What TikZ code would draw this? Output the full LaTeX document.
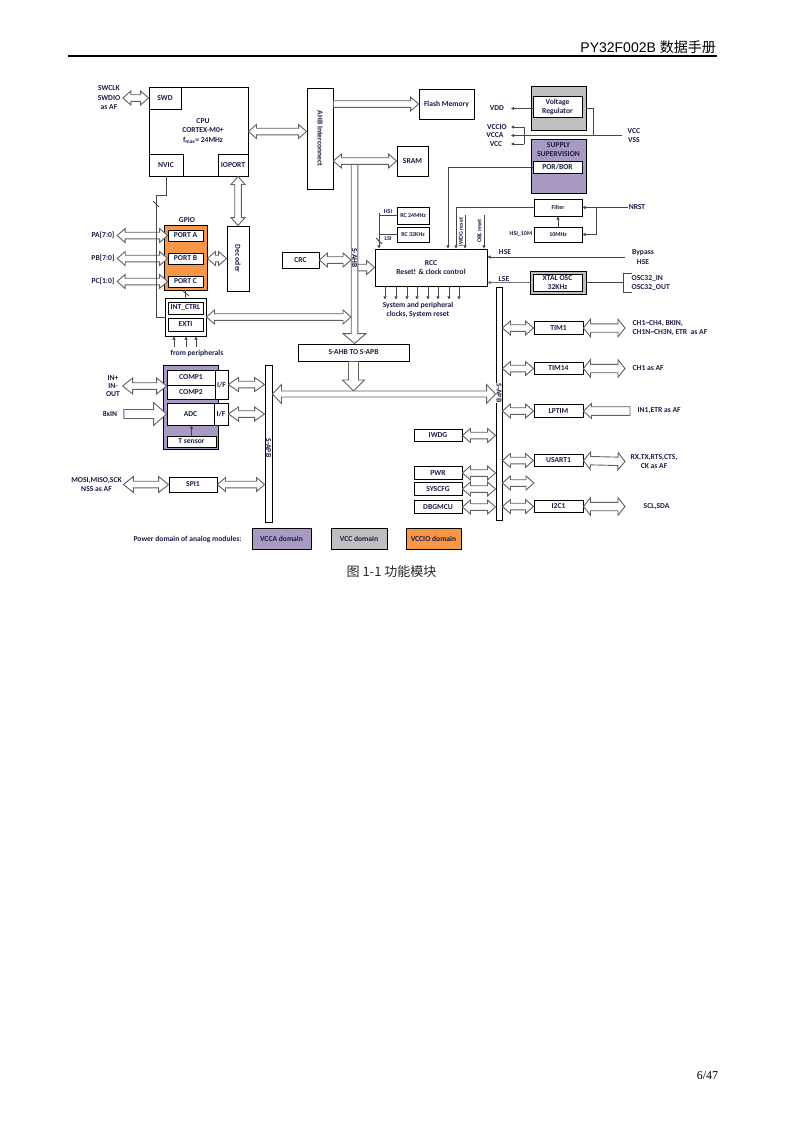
\documentclass[tikz,border=0pt]{standalone}
\usepackage{fontspec}
\setmainfont{Carlito}
\newfontfamily\hdrfont{Liberation Sans}
\newfontfamily\cjkfont{Noto Sans CJK SC}
\newfontfamily\pgfont{Liberation Serif}
\usepackage{xcolor}
\usepackage{tikz}
\usetikzlibrary{arrows.meta,calc}
\definecolor{vccapurple}{RGB}{168,154,194}
\definecolor{vccgray}{RGB}{191,191,191}
\definecolor{vccioorange}{RGB}{247,150,70}
\definecolor{ink}{RGB}{28,28,72}

\newcommand\dfont{\fontsize{7.6}{9.5}\selectfont\bfseries}
\newcommand\sfont{\fontsize{6}{7}\selectfont\bfseries}

% hollow block arrows between two points
\def\blkaw{7pt}\def\blkah{8pt}\def\blksw{3.3pt}
\tikzset{head w/.code={\def\blkaw{#1}}, head l/.code={\def\blkah{#1}}, shaft w/.code={\def\blksw{#1}}}
\newcommand\dblarr[3][]{%
  \filldraw[blkarrow,#1] (#2)
    -- ($(#2)!\blkah!(#3)!\blkaw!90:(#3)$)
    -- ($(#2)!\blkah!(#3)!\blksw!90:(#3)$)
    -- ($(#3)!\blkah!(#2)!\blksw!-90:(#2)$)
    -- ($(#3)!\blkah!(#2)!\blkaw!-90:(#2)$)
    -- (#3)
    -- ($(#3)!\blkah!(#2)!\blkaw!90:(#2)$)
    -- ($(#3)!\blkah!(#2)!\blksw!90:(#2)$)
    -- ($(#2)!\blkah!(#3)!\blksw!-90:(#3)$)
    -- ($(#2)!\blkah!(#3)!\blkaw!-90:(#3)$)
    -- cycle;}
\newcommand\sglarr[3][]{%
  \filldraw[blkarrow,#1] ($(#2)!\blksw!90:(#3)$)
    -- ($(#3)!\blkah!(#2)!\blksw!-90:(#2)$)
    -- ($(#3)!\blkah!(#2)!\blkaw!-90:(#2)$)
    -- (#3)
    -- ($(#3)!\blkah!(#2)!\blkaw!90:(#2)$)
    -- ($(#3)!\blkah!(#2)!\blksw!90:(#2)$)
    -- ($(#2)!\blksw!-90:(#3)$)
    -- cycle;}

\begin{document}
\begin{tikzpicture}[x=1pt, y=-1pt,
    every node/.style={text=ink, font=\dfont, inner sep=0.5pt},
    box/.style={draw=black, line width=0.9pt, fill=white, align=center, inner sep=0pt},
    lbl/.style={align=center},
    small/.style={font=\sfont},
    wire/.style={draw=black!72, line width=0.8pt},
    wirearr/.style={wire, -{Triangle[length=3.2pt,width=3.2pt]}},
    blkarrow/.style={draw=black!62, fill=white, line width=0.9pt, line join=miter},
    barlbl/.style={rotate=-90, fill=white, inner sep=0.3pt}
]
\useasboundingbox (0,0) rectangle (793,1122);

% page header
\node[anchor=base east, font=\fontsize{14}{16}\selectfont\hdrfont, text=black, inner sep=0pt] (title) at (716,52) {PY32F002B {\cjkfont 数据手册}};
\draw[line width=1.3pt] (68,56) -- (717,56);

% CPU
\node[box, minimum width=99, minimum height=89] (cpu) at (198.5,131.5) {};
\node[lbl] (cpulbl) at (203,131) {CPU\\CORTEX-M0+\\f\textsubscript{max}= 24MHz};
\node[box, minimum width=32, minimum height=22] (swd) at (165,98) {SWD};
\node[box, minimum width=34, minimum height=22] (nvic) at (166,165) {NVIC};
\node[box, minimum width=30, minimum height=22] (ioport) at (233,165) {IOPORT};
\node[lbl] (swdlbl) at (109,98) {SWCLK\\SWDIO\\as AF};
\dblarr{[xshift=2pt]swdlbl.east}{swd.west}

% AHB
\node[box, minimum width=26, minimum height=101] (ahb) at (320,138.5) {};
\node[rotate=-90] (ahblbl) at (ahb) {AHB Interconnect};
\node[box, minimum width=55, minimum height=30] (flash) at (446.5,104) {Flash Memory};
\node[box, minimum width=31, minimum height=30] (sram) at (412.5,161) {SRAM};
\node[box, minimum width=111, minimum height=17] (ahb2apb) at (353.5,352.5) {S-AHB TO S-APB};
\dblarr{cpu.east}{ahb.west|-cpu.east}
\sglarr{ahb.east|-flash}{flash.west}
\coordinate (sahb) at (354.5,163);
\coordinate (sahbl) at (351,163);
\coordinate (sahbr) at (358,163);
\sglarr[head w=11.5pt, head l=10pt]{sahb}{sahb|-ahb2apb.north}
\dblarr{ahb.east|-sram}{sram.west}
\node[barlbl] (sahblbl) at (354.5,258) {S-AHB};

% GPIO
\node[box, fill=vccioorange, minimum width=43, minimum height=65] (gpio) at (185.5,257.5) {};
\node (gpiolbl) at (187,220) {GPIO};
\node[box, minimum width=22, minimum height=65] (decoder) at (238,258.5) {};
\node[rotate=-90] (decoderlbl) at (decoder) {Dec oder};
\foreach \nm/\yy/\ptxt/\pin in {a/235.5/PORT A/PA[7:0], b/258.5/PORT B/PB[7:0], c/281.5/PORT C/PC[1:0]} {
    \node[box, minimum width=35, minimum height=11] (port\nm) at (185.5,\yy) {\ptxt};
    \node (pin\nm) at (103,\yy) {\pin};
    \dblarr{[xshift=2pt]pin\nm.east}{port\nm.west}
}
\dblarr{decoder.north|-ioport.south}{decoder.north}
\dblarr{gpio.east|-portb}{decoder.west|-portb}

% interrupts
\node[box, minimum width=41, minimum height=38] (intext) at (185.5,317) {};
\node[box, minimum width=35, minimum height=12] (intctrl) at (185.5,308) {INT\_CTRL};
\node[box, minimum width=35, minimum height=13] (exti) at (185.5,324.5) {EXTI};
\node (fromp) at (197,353) {from peripherals};
\foreach \x in {174,186,196}
    \draw[wirearr] (\x,347) -- (\x,0 |- intext.south);
\draw[wire] (nvic.south) |- (156,195) |- (intext.west);
\draw[wire] (153,201) -- (159,207);
\draw[wire] (gpio.south) -- (intext.north);
\draw[wire] (183,291) -- (189,296);
\dblarr{intext.east}{sahbl|-intext.east}

% CRC and RCC
\node[box, minimum width=37, minimum height=16] (crc) at (300.5,260) {CRC};
\node[box, minimum width=112, minimum height=37, font=\fontsize{7.6}{9}\selectfont\bfseries] (rcc) at (431,267.5) {RCC\\Reset! \& clock control};
\dblarr{crc.east}{sahbl|-crc.east}
\sglarr{sahbr|-rcc}{rcc.west}
\node[box, small, minimum width=32, minimum height=17] (rc24) at (413,215.5) {RC 24MHz};
\node[box, small, minimum width=32, minimum height=15] (rc32) at (413,234.5) {RC 32KHz};
\coordinate (hsibus) at (379,213);
\draw[wirearr] (hsibus) -- (hsibus|-rcc.north);
\draw[wire] (hsibus|-rc24) -- (rc24.west);
\draw[wire] (hsibus|-rc32) -- (rc32.west);
\draw[wire] (376,238) -- (382,244);
\node[small] (hsilbl) at (388,211.5) {HSI};
\node[small] (lsilbl) at (388,238.5) {LSI};
\foreach \x in {385,396,407,417,428,438,449,459}
    \draw[wirearr] (\x,0 |- rcc.south) -- ++(0,13);
\node[lbl, font=\fontsize{7.6}{9}\selectfont\bfseries] (clkout) at (418,309.5) {System and peripheral\\clocks, System reset};

% supply
\node[box, fill=vccgray, minimum width=55, minimum height=44] (vreg) at (558.5,108) {};
\node[box, minimum width=49, minimum height=21, font=\fontsize{7.6}{9}\selectfont\bfseries] (vregin) at (557.5,106.5) {Voltage\\Regulator};
\node[box, fill=vccapurple, minimum width=55, minimum height=54] (supsv) at (558.5,166) {};
\node[lbl, font=\fontsize{7.6}{9}\selectfont\bfseries] (supsvlbl) at (558.5,149.5) {SUPPLY\\SUPERVISION};
\node[box, minimum width=49, minimum height=12] (porbor) at (557.5,167) {POR/BOR};
\node (vddlbl) at (497,108.5) {VDD};
\node (vccio) at (497,127) {VCCIO};
\node (vcca) at (495,135.5) {VCCA};
\node (vcclbl) at (496,144) {VCC};
\node[lbl, anchor=west, font=\fontsize{7.6}{9}\selectfont\bfseries] (vccvss) at (627,135.5) {VCC\\VSS};
\coordinate (pinx) at (511,0);
\coordinate (brk) at (524,0);
\coordinate (regout) at (593,0);
\draw[wirearr] (vregin.west|-vddlbl) -- (pinx|-vddlbl);
\draw[wirearr] (brk|-vccio) -- (pinx|-vccio);
\draw[wirearr] (brk|-vcclbl) -- (pinx|-vcclbl);
\draw[wire] (brk|-vccio) -- (brk|-vcclbl);
\draw[wire] (vreg.east) -| (regout|-vccvss);
\draw[wirearr] ([xshift=-5pt]vccvss.west) -- (pinx|-vccvss);
\draw[wirearr] (porbor.west) -| (rcc.north -| 448,0);

% reset and clocks
\node[box, small, minimum width=48, minimum height=17] (filter) at (558,207.5) {Filter};
\node[box, small, minimum width=48, minimum height=15] (osc10) at (558,234.5) {10MHz};
\node[small] (hsi10) at (521,233.5) {HSI\_10M};
\node (nrst) at (637,207.5) {NRST};
\coordinate (nrstsplit) at (596,207.5);
\draw[wirearr] (osc10.north) -- (filter.south);
\draw[wirearr] (nrst.west) -- (filter.east);
\draw[wirearr] (nrstsplit) |- (osc10.east);
\draw[wirearr] (filter.west) -| (rcc.north -| 456,0);
\draw[wirearr] (465,215) -- (rcc.north -| 465,0);
\draw[wirearr] (484,215) -- (rcc.north -| 484,0);
\node[small, rotate=90] (iwdgrst) at (461,232) {IWDG reset};
\node[small, rotate=90] (oblrst) at (479.5,231) {OBL reset};
\node (hselbl) at (505,252) {HSE};
\node[lbl, font=\fontsize{7.6}{9.5}\selectfont\bfseries] (bypass) at (643,257) {Bypass\\HSE};
\draw[wirearr] ([xshift=-6.5pt]bypass.west) -- (rcc.east|-bypass.west);
\node[box, fill=vccgray, minimum width=56, minimum height=23] (xtal) at (558,282.5) {};
\node[box, minimum width=49, minimum height=17, font=\fontsize{7.6}{9}\selectfont\bfseries] (xtalin) at (557.5,282.5) {XTAL OSC\\32KHz};
\node (lselbl) at (504,279) {LSE};
\draw[wirearr, draw=black!55, line width=1.6pt] (xtal.west) -- (rcc.east|-xtal.west);
\node[lbl, anchor=west, align=left] (osc32) at (631,283) {OSC32\_IN\\OSC32\_OUT};
\draw[wire] (xtal.east) -- (623,282.5);
\draw[wire] (632,273) -| (623,292) -- (632,292);

% APB buses
\node[box, minimum width=7, minimum height=157] (lbus) at (268.5,443.5) {};
\node[box, minimum width=6, minimum height=233] (rbus) at (499,403.5) {};
\coordinate (apbmid) at (384,394);
\coordinate (apbjoin) at (354,391);
\sglarr[shaft w=5pt, head w=11pt, head l=11pt]{ahb2apb.south}{ahb2apb.south|-apbjoin}
\dblarr[shaft w=3pt, head w=9.5pt, head l=9pt]{lbus.east|-apbmid}{rbus.west|-apbmid}
\node[barlbl] (lapblbl) at (268.5,448) {S-APB};
\node[barlbl] (rapblbl) at (499,393) {S-APB};

% analog
\node[box, fill=vccapurple, minimum width=55, minimum height=84] (analog) at (190.5,407) {};
\node[box, minimum width=48, minimum height=15] (comp1) at (191,377.5) {COMP1};
\node[box, minimum width=48, minimum height=14] (comp2) at (191,392) {COMP2};
\node[box, minimum width=13, minimum height=29] (if1) at (221.5,384.5) {I/F};
\node[box, minimum width=47, minimum height=22] (adc) at (190.5,414) {ADC};
\node[box, minimum width=14, minimum height=22] (if2) at (221,414) {I/F};
\node[box, minimum width=49, minimum height=11] (tsens) at (191.5,441.5) {T sensor};
\draw[wirearr] (tsens.north) -- (tsens.north|-adc.south);
\dblarr[head l=10pt]{if1.east}{lbus.west|-if1.east}
\dblarr[head l=10pt]{if2.east}{lbus.west|-if2.east}
\node[lbl, font=\fontsize{7.6}{8}\selectfont\bfseries] (inlbl) at (113,386) {IN+\\IN-\\OUT};
\dblarr[head w=8pt, head l=10pt]{[xshift=2pt]inlbl.east}{comp1.west|-inlbl.east}
\node (adcin) at (110,414) {8xIN};
\sglarr[shaft w=4.5pt, head w=11.5pt, head l=13pt]{[xshift=6pt]adcin.east}{adc.west}
\node[box, minimum width=48, minimum height=15] (spi1) at (193,484.5) {SPI1};
\node[lbl] (spilbl) at (96.5,484.5) {MOSI,MISO,SCK\\NSS as AF};
\dblarr[head w=8pt, head l=10pt]{[xshift=1pt]spilbl.east}{spi1.west}
\dblarr{spi1.east}{lbus.west|-spi1.east}

% system peripherals
\foreach \nm/\yy/\txt in {iwdg/435.5/IWDG, pwr/473/PWR, syscfg/489/SYSCFG, dbgmcu/507/DBGMCU} {
    \node[box, minimum width=48, minimum height=12.5] (\nm) at (438,\yy) {\txt};
    \dblarr{\nm.east}{rbus.west|-\nm.east}
}
\foreach \nm/\yy/\txt in {tim1/328/TIM1, tim14/368.5/TIM14, lptim/411/LPTIM, usart/460.5/USART1, iic/506.5/I2C1} {
    \node[box, minimum width=49, minimum height=12.5] (\nm) at (558.5,\yy) {\txt};
    \dblarr{rbus.east|-\nm.west}{\nm.west}
}
\coordinate (spare) at (534,483);
\dblarr{rbus.east|-spare}{spare}
\node[lbl, anchor=west, align=left] (tim1pin) at (632,328) {CH1\textasciitilde CH4, BKIN,\\CH1N\textasciitilde CH3N, ETR\ \ as AF};
\node[anchor=west] (tim14pin) at (632,368.5) {CH1 as AF};
\node[anchor=west] (lptimpin) at (637,411) {IN1,ETR as AF};
\node[lbl, anchor=west] (usartpin) at (630,461.5) {RX,TX,RTS,CTS,\\CK as AF};
\node[anchor=west] (iicpin) at (643,506.5) {SCL,SDA};
\dblarr[shaft w=4.2pt, head w=8.8pt, head l=7pt]{tim1.east}{[xshift=-7pt]tim1pin.west}
\dblarr[shaft w=4.2pt, head w=8.8pt, head l=7pt]{tim14.east}{[xshift=-7pt]tim14pin.west}
\sglarr[shaft w=4.3pt, head w=7.5pt, head l=8pt]{[xshift=-7pt]lptimpin.west}{lptim.east}
\dblarr[shaft w=4.2pt, head w=8.8pt, head l=7pt]{usart.east}{[xshift=-5pt]usartpin.west}
\dblarr[shaft w=4.2pt, head w=8.8pt, head l=7pt]{iic.east}{[xshift=-18pt]iicpin.west}

% legend
\node (legend) at (187.5,539) {Power domain of analog modules:};
\node[box, fill=vccapurple, minimum width=59, minimum height=21] (vccabox) at (281.5,538.5) {VCCA domain};
\node[box, fill=vccgray, minimum width=56, minimum height=21] (vccbox) at (359,538.5) {VCC domain};
\node[box, fill=vccioorange, minimum width=55, minimum height=21] (vcciobox) at (433.5,538.5) {VCCIO domain};

% caption and page number
\node[font=\fontsize{13}{15}\selectfont\cjkfont, text=black!85] (caption) at (391.5,572) {图 1-1 功能模块};
\node[font=\fontsize{12}{14}\selectfont\pgfont, text=black] (pageno) at (707.5,1076) {6/47};
\end{tikzpicture}
\end{document}
